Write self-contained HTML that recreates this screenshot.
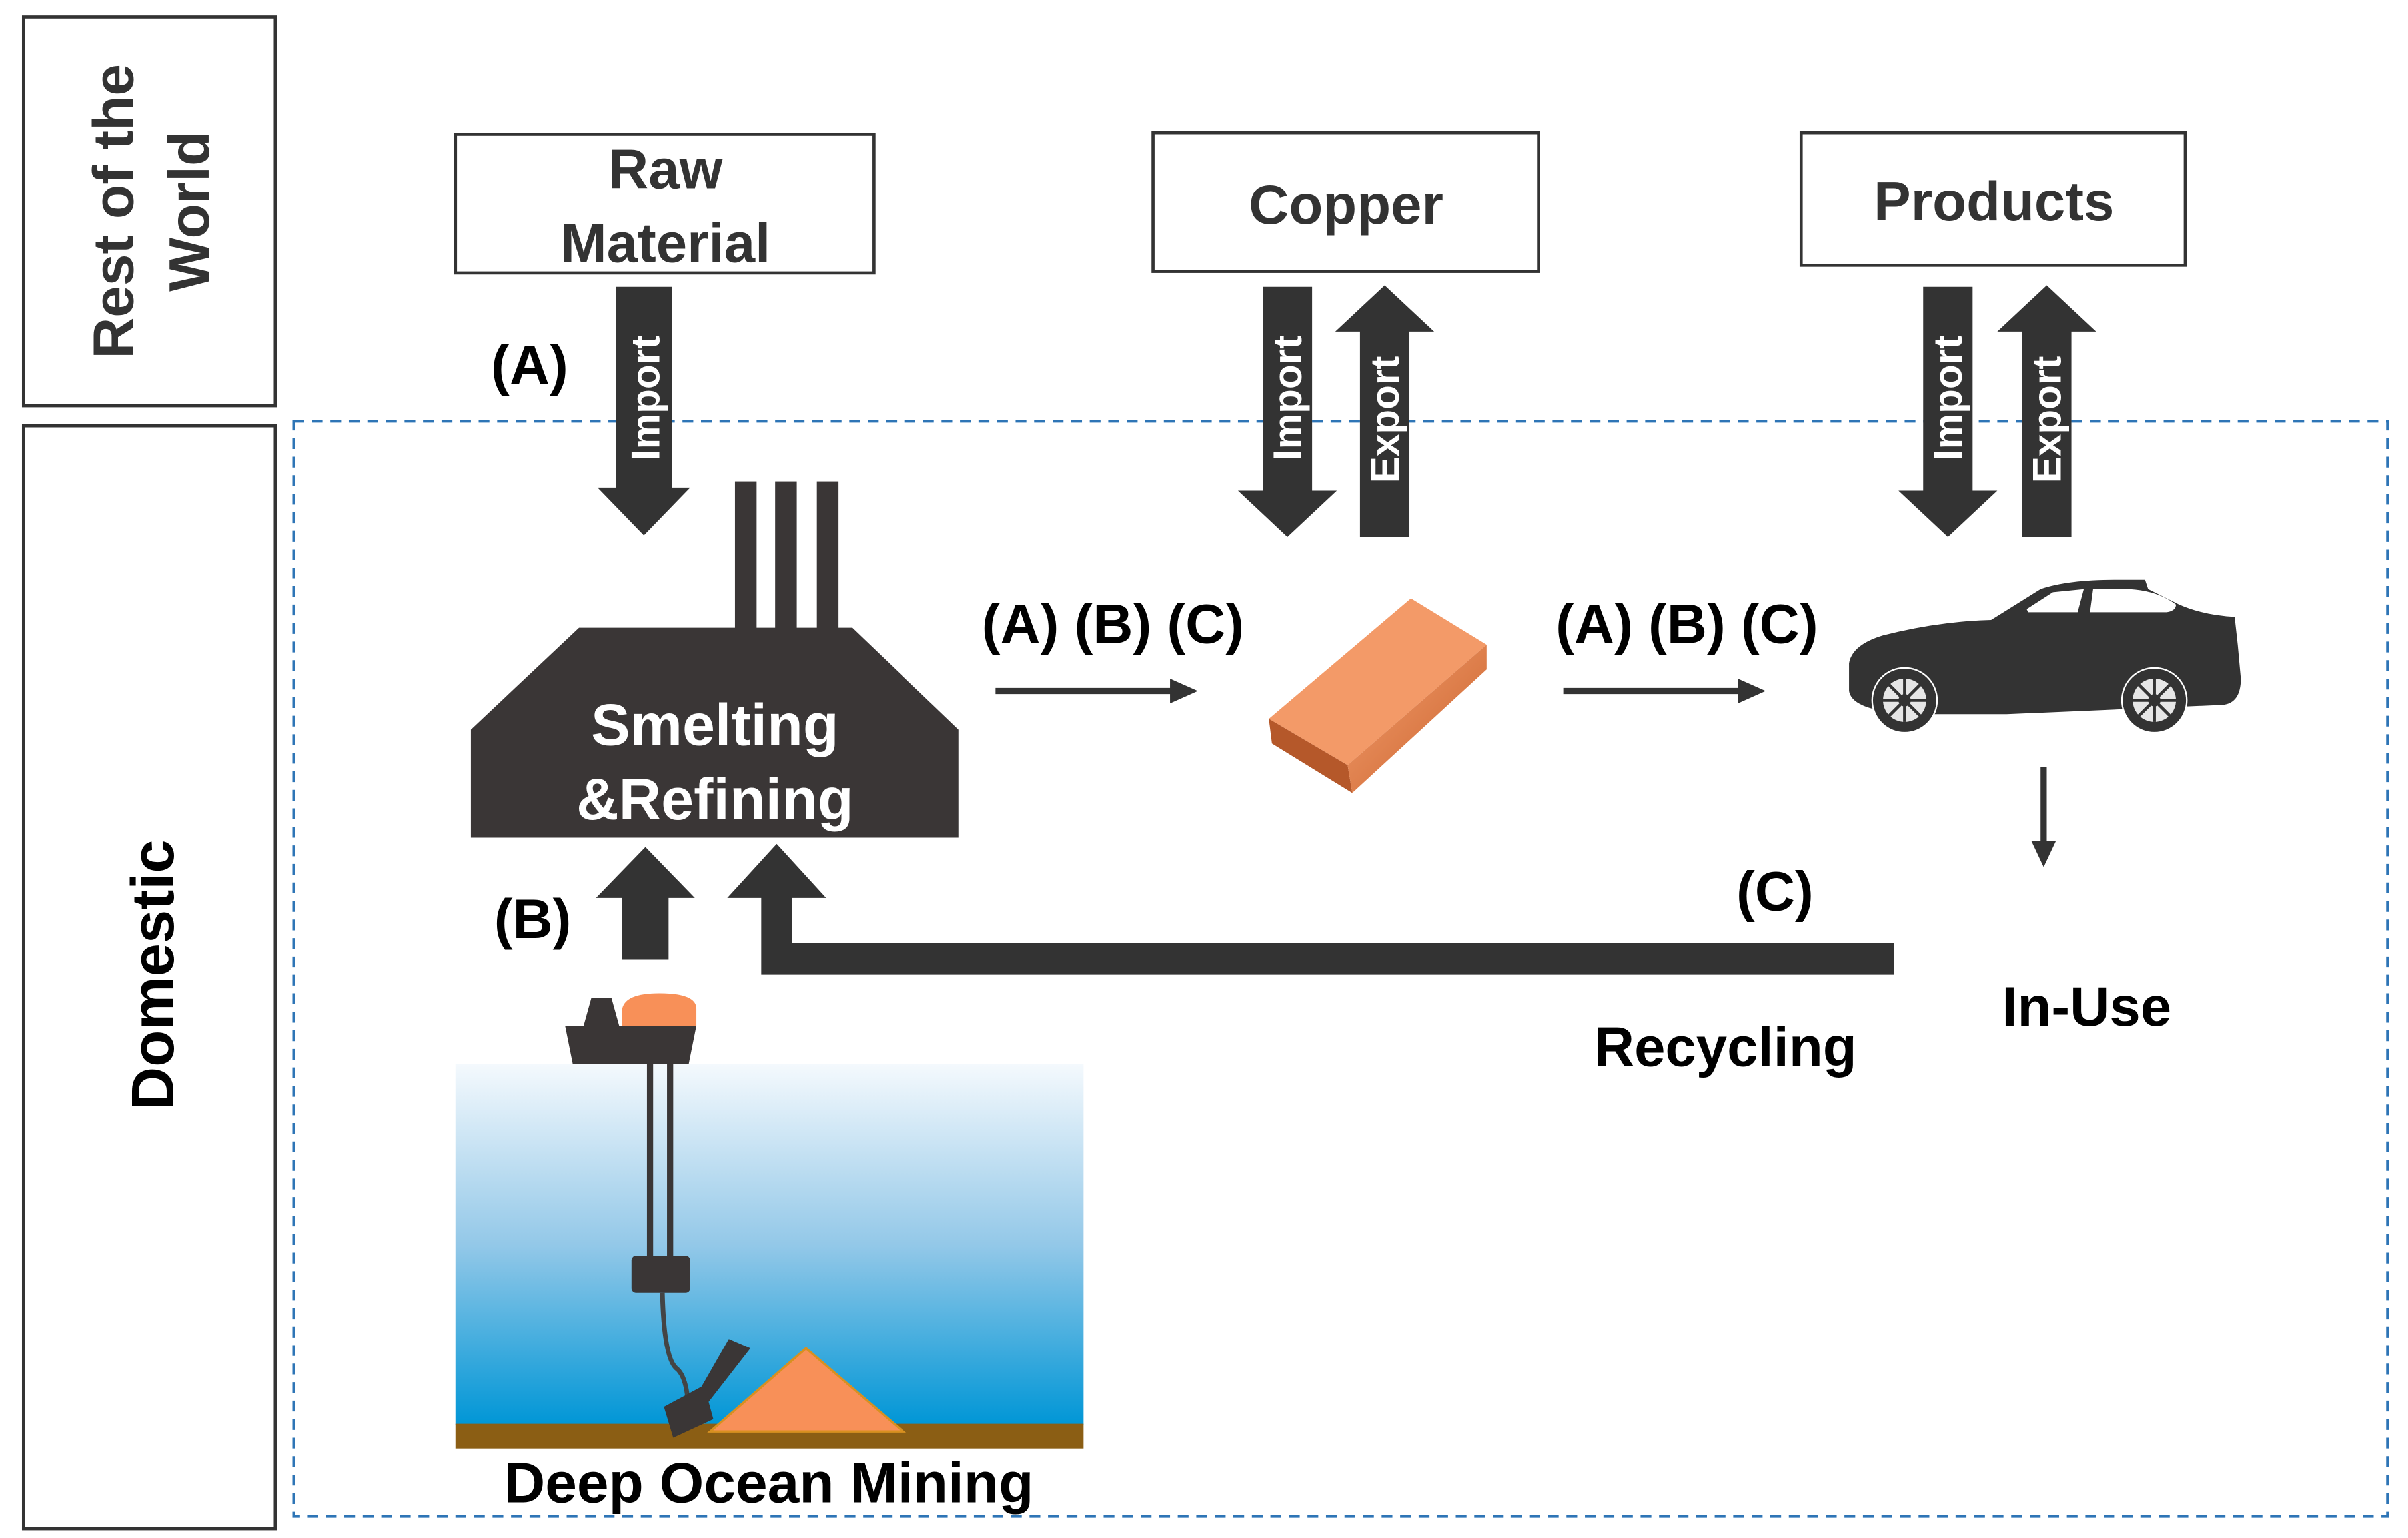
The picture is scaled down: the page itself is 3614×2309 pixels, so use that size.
<!DOCTYPE html>
<html><head><meta charset="utf-8"><style>
html,body{margin:0;padding:0;background:#fff;}
svg{display:block;}
text{font-family:"Liberation Sans",sans-serif;font-weight:bold;}
</style></head><body>
<svg width="3614" height="2309" viewBox="0 0 1560 997" xmlns="http://www.w3.org/2000/svg">
<defs>
<linearGradient id="sea" x1="0" y1="0" x2="0" y2="1">
<stop offset="0" stop-color="#f4f9fd"/><stop offset="0.5" stop-color="#93c8e8"/><stop offset="1" stop-color="#0096d6"/>
</linearGradient>
<linearGradient id="cu" x1="0" y1="0" x2="1" y2="1">
<stop offset="0" stop-color="#f5a070"/><stop offset="1" stop-color="#c8602a"/>
</linearGradient>
</defs>
<rect x="15" y="11" width="163" height="252" fill="#fff" stroke="#333" stroke-width="2"/>
<rect x="15" y="276" width="163" height="715" fill="#fff" stroke="#333" stroke-width="2"/>
<text transform="translate(86,137) rotate(-90)" text-anchor="middle" font-size="37" fill="#333">Rest of the</text>
<text transform="translate(135,137) rotate(-90)" text-anchor="middle" font-size="37" fill="#333">World</text>
<text transform="translate(112,632) rotate(-90)" text-anchor="middle" font-size="39" fill="#000">Domestic</text>
<rect x="190" y="273" width="1357" height="710" fill="none" stroke="#2e75b6" stroke-width="1.8" stroke-dasharray="7,5"/>
<rect x="295" y="87" width="271" height="90" fill="#fff" stroke="#333" stroke-width="2"/>
<text x="431" y="122" text-anchor="middle" font-size="36" fill="#333">Raw</text>
<text x="431" y="170" text-anchor="middle" font-size="36" fill="#333">Material</text>
<rect x="747" y="86" width="250" height="90" fill="#fff" stroke="#333" stroke-width="2"/>
<text x="872" y="145" text-anchor="middle" font-size="36" fill="#333">Copper</text>
<rect x="1167" y="86" width="249" height="86" fill="#fff" stroke="#333" stroke-width="2"/>
<text x="1292" y="143" text-anchor="middle" font-size="36" fill="#333">Products</text>
<g fill="#333">
<polygon points="399,186 435,186 435,316 447,316 417,347 387,316 399,316"/>
<polygon points="818,186 850,186 850,318 866,318 834,348 802,318 818,318"/>
<polygon points="881,348 913,348 913,215 929,215 897,185 865,215 881,215"/>
<polygon points="1246,186 1278,186 1278,318 1294,318 1262,348 1230,318 1246,318"/>
<polygon points="1310,348 1342,348 1342,215 1358,215 1326,185 1294,215 1310,215"/>
</g>
<g fill="#fff" font-size="26" text-anchor="middle">
<text transform="translate(427,258) rotate(-90)">Import</text>
<text transform="translate(843,258) rotate(-90)">Import</text>
<text transform="translate(906,272) rotate(-90)">Export</text>
<text transform="translate(1271,258) rotate(-90)">Import</text>
<text transform="translate(1335,272) rotate(-90)">Export</text>
</g>
<text x="343" y="249" text-anchor="middle" font-size="36">(A)</text>
<g fill="#3a3636">
<rect x="476" y="312" width="14" height="100"/><rect x="502" y="312" width="14" height="100"/><rect x="529" y="312" width="14" height="100"/>
<polygon points="375,407 552,407 621,473 621,543 305,543 305,473"/>
</g>
<text x="463" y="483" text-anchor="middle" font-size="38" fill="#fff">Smelting</text>
<text x="463" y="531" text-anchor="middle" font-size="38" fill="#fff">&amp;Refining</text>
<text x="721" y="417" text-anchor="middle" font-size="36">(A) (B) (C)</text>
<line x1="645" y1="448" x2="760" y2="448" stroke="#333" stroke-width="4"/>
<polygon points="758,440 776,448 758,456" fill="#333"/>
<text x="1093" y="417" text-anchor="middle" font-size="36">(A) (B) (C)</text>
<line x1="1013" y1="448" x2="1128" y2="448" stroke="#333" stroke-width="4"/>
<polygon points="1126,440 1144,448 1126,456" fill="#333"/>
<polygon points="822,466 914,388 963,418 873,496" fill="#f39a68"/>
<polygon points="822,466 873,496 876,514 824,482" fill="#b5582a"/>
<polygon points="873,496 963,418 963,434 876,514" fill="url(#cu)"/>
<!-- car -->
<path d="M1198,430 Q1200,418 1220,412 Q1255,403 1290,402 L1322,382 Q1340,376 1370,376 L1390,376 L1392,382 L1412,392 Q1428,399 1448,400 L1450,418 L1452,440 Q1452,456 1440,457 L1300,463 L1245,463 Q1200,462 1198,448 Z" fill="#333"/>
<path d="M1313,395 L1330,384 L1350,382 L1346,397 L1314,397 Z" fill="#fff"/>
<path d="M1356,382 L1380,382 Q1398,383 1410,392 Q1410,396 1404,397 L1354,397 Z" fill="#fff"/>
<g>
<circle cx="1234" cy="454" r="21" fill="#333" stroke="#fff" stroke-width="1"/>
<circle cx="1234" cy="454" r="14" fill="#e6e6e6"/>
<g stroke="#333" stroke-width="2"><line x1="1220" y1="454" x2="1248" y2="454"/><line x1="1234" y1="440" x2="1234" y2="468"/><line x1="1224" y1="444" x2="1244" y2="464"/><line x1="1244" y1="444" x2="1224" y2="464"/></g>
<circle cx="1234" cy="454" r="4" fill="#333"/>
<circle cx="1396" cy="454" r="21" fill="#333" stroke="#fff" stroke-width="1"/>
<circle cx="1396" cy="454" r="14" fill="#e6e6e6"/>
<g stroke="#333" stroke-width="2"><line x1="1382" y1="454" x2="1410" y2="454"/><line x1="1396" y1="440" x2="1396" y2="468"/><line x1="1386" y1="444" x2="1406" y2="464"/><line x1="1406" y1="444" x2="1386" y2="464"/></g>
<circle cx="1396" cy="454" r="4" fill="#333"/>
</g>
<line x1="1324" y1="497" x2="1324" y2="548" stroke="#333" stroke-width="4"/>
<polygon points="1316,545 1324,562 1332,545" fill="#333"/>
<text x="1150" y="590" text-anchor="middle" font-size="36">(C)</text>
<text x="1352" y="665" text-anchor="middle" font-size="36">In-Use</text>
<text x="1118" y="691" text-anchor="middle" font-size="36">Recycling</text>
<polygon points="1227,611 1227,632 493,632 493,582 471,582 503,547 535,582 513,582 513,611" fill="#333"/>
<text x="345" y="608" text-anchor="middle" font-size="36">(B)</text>
<polygon points="403,622 433,622 433,582 450,582 418,549 386,582 403,582" fill="#333"/>
<rect x="295" y="690" width="407" height="234" fill="url(#sea)"/>
<rect x="295" y="923" width="407" height="16" fill="#8b5e14"/>
<polygon points="460,928 522,874 585,928" fill="#f89058" stroke="#d89020" stroke-width="1.5"/>
<polygon points="366,665 451,665 446,690 371,690" fill="#3a3636"/>
<polygon points="378,665 383,647 396,647 401,665" fill="#3a3636"/>
<path d="M403,665 L403,654 Q405,644 427,644 Q451,644 451,654 L451,665 Z" fill="#f89058"/>
<rect x="419" y="690" width="4" height="126" fill="#3a3636"/>
<rect x="432" y="690" width="4" height="126" fill="#3a3636"/>
<rect x="409" y="814" width="38" height="24" rx="3" fill="#3a3636"/>
<path d="M429,838 Q430,880 438,887 Q446,893 446,920" fill="none" stroke="#444" stroke-width="3"/>
<polygon points="430,912 456,898 462,920 436,932" fill="#3a3636"/>
<polygon points="452,903 472,868 486,874 458,910" fill="#3a3636"/>
<text x="498" y="974" text-anchor="middle" font-size="37">Deep Ocean Mining</text>
</svg>
</body></html>
